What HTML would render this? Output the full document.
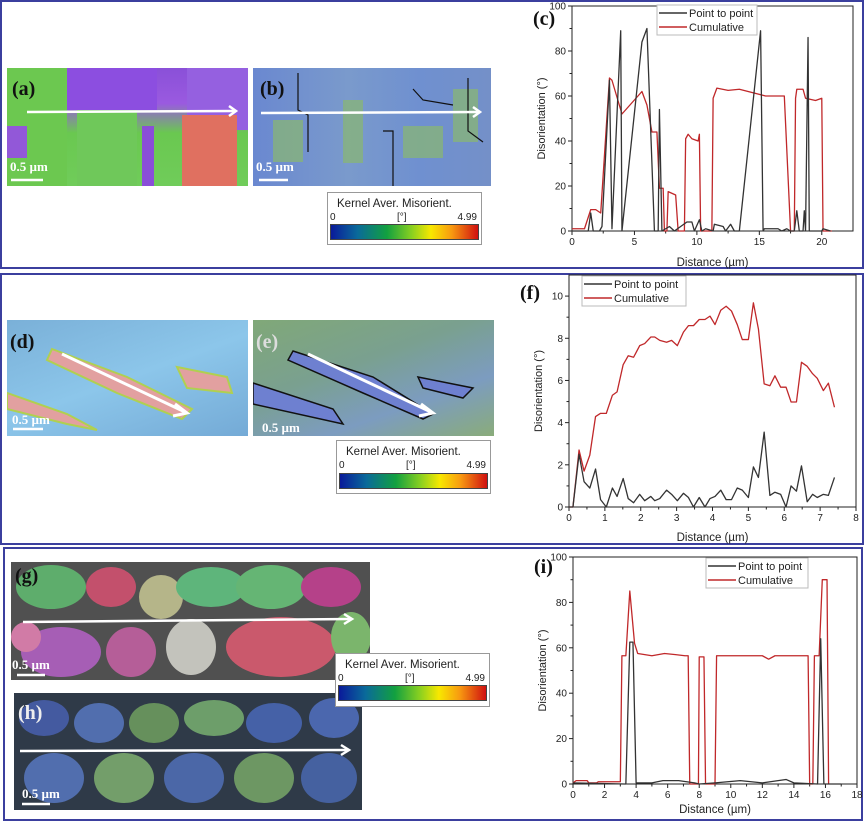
<!DOCTYPE html>
<html><head><meta charset="utf-8">
<style>
html,body{margin:0;padding:0;background:#fff;}
body{width:865px;height:822px;position:relative;overflow:hidden;font-family:"Liberation Sans",sans-serif;}
.panel{position:absolute;border:2px solid #3b3f9e;box-sizing:border-box;}
.img{position:absolute;overflow:hidden;}
.lbl{position:absolute;font-family:"Liberation Serif",serif;font-weight:bold;font-size:20px;color:#111;}
.scale{position:absolute;font-family:"Liberation Serif",serif;font-weight:bold;font-size:13px;color:#fff;}
.cbox{position:absolute;border:1px solid #999;background:#fff;font-size:11px;color:#222;}
.cgrad{position:absolute;left:2px;right:2px;height:14px;background:linear-gradient(90deg,#0a1a9a 0%,#0a6a9a 18%,#12a040 38%,#8ad020 55%,#f8e800 68%,#f89a10 82%,#d01010 100%);border:1px solid #444;}
</style></head>
<body>
<div class="panel" style="left:0;top:0;width:864px;height:269px;"></div>
<div class="panel" style="left:0;top:273px;width:864px;height:272px;"></div>
<div class="panel" style="left:3px;top:547px;width:860px;height:274px;"></div>

<!-- (a) -->
<div class="img" style="left:7px;top:68px;width:241px;height:118px;background:linear-gradient(180deg,#8a50d8 0%,#9a5ae0 30%,#6ac850 55%,#70cc5a 100%);">
<svg width="241" height="118"><rect x="0" y="0" width="60" height="118" fill="#6cc850"/><rect x="60" y="0" width="90" height="42" fill="#8c4ee0"/><rect x="180" y="0" width="61" height="62" fill="#9560e0"/><rect x="175" y="47" width="55" height="71" fill="#e07060"/><rect x="70" y="42" width="60" height="76" fill="#6fc85a"/><rect x="0" y="58" width="20" height="32" fill="#9258d8"/><rect x="135" y="58" width="12" height="60" fill="#8a4ed8"/><path d="M20 44 L228 43" stroke="#fff" stroke-width="2.5"/><path d="M222 38 L229 43 L222 48" stroke="#fff" stroke-width="2.5" fill="none"/><line x1="4" y1="112" x2="36" y2="112" stroke="#fff" stroke-width="2.5"/></svg>
</div>
<div class="lbl" style="left:12px;top:78px;">(a)</div>
<div class="scale" style="left:10px;top:159px;">0.5 µm</div>
<!-- (b) -->
<div class="img" style="left:253px;top:68px;width:238px;height:118px;background:linear-gradient(90deg,#6a88d0,#7a9acc 40%,#6f90d0 70%,#7490c8);">
<svg width="238" height="118"><g fill="#8ab870" opacity="0.7"><rect x="20" y="52" width="30" height="42"/><rect x="90" y="32" width="20" height="63"/><rect x="150" y="58" width="40" height="32"/><rect x="200" y="21" width="25" height="53"/></g><g stroke="#111" fill="none" stroke-width="1.2"><path d="M45 5 L45 42 L55 47 L55 84"/><path d="M130 63 L140 63 L140 118"/><path d="M160 21 L170 32 L200 37"/><path d="M215 10 L215 63 L230 74"/></g><path d="M8 45 L226 44" stroke="#fff" stroke-width="2.5"/><path d="M220 39 L227 44 L220 49" stroke="#fff" stroke-width="2.5" fill="none"/><line x1="6" y1="112" x2="35" y2="112" stroke="#fff" stroke-width="2.5"/></svg>
</div>
<div class="lbl" style="left:260px;top:78px;">(b)</div>
<div class="scale" style="left:256px;top:159px;">0.5 µm</div>
<div class="cbox" style="left:327px;top:192px;width:153px;height:51px;">
<div style="position:absolute;left:9px;top:5px;font-size:11.5px;">Kernel Aver. Misorient.</div>
<div style="position:absolute;left:2px;top:19px;font-size:10px;">0</div><div style="position:absolute;left:69px;top:19px;font-size:10px;">[°]</div><div style="position:absolute;right:4px;top:19px;font-size:10px;">4.99</div>
<div class="cgrad" style="top:31px;"></div></div>

<!-- (d) -->
<div class="img" style="left:7px;top:320px;width:241px;height:116px;background:linear-gradient(160deg,#7ab0d8,#8cc6ea 50%,#74aad6);">
<svg width="241" height="116"><g fill="#e2a0a0" stroke="#b0d050" stroke-width="2"><path d="M45 29 L120 57 L185 89 L175 99 L110 73 L40 40 Z"/><path d="M170 47 L220 57 L225 73 L180 68 Z"/><path d="M0 73 L60 94 L90 110 L60 104 L0 89 Z"/></g><path d="M55 34 L178 92" stroke="#fff" stroke-width="3"/><path d="M168 84 L180 93 L166 96" stroke="#fff" stroke-width="3" fill="none"/><line x1="6" y1="109" x2="36" y2="109" stroke="#fff" stroke-width="2.5"/></svg>
</div>
<div class="lbl" style="left:10px;top:331px;">(d)</div>
<div class="scale" style="left:12px;top:412px;">0.5 µm</div>
<!-- (e) -->
<div class="img" style="left:253px;top:320px;width:241px;height:116px;background:linear-gradient(160deg,#80a878,#7aa090 40%,#7c9cc0 70%,#8aac7a);">
<svg width="241" height="116"><g fill="#6e80d0" stroke="#111" stroke-width="1.5"><path d="M40 31 L120 57 L180 94 L170 99 L110 73 L35 40 Z"/><path d="M0 63 L80 89 L90 104 L0 84 Z"/><path d="M165 57 L220 68 L210 78 L170 68 Z"/></g><path d="M55 34 L178 92" stroke="#fff" stroke-width="3"/><path d="M168 84 L180 93 L166 96" stroke="#fff" stroke-width="3" fill="none"/></svg>
</div>
<div class="lbl" style="left:256px;top:331px;color:#ddd;">(e)</div>
<div class="scale" style="left:262px;top:420px;">0.5 µm</div>
<div class="cbox" style="left:336px;top:440px;width:153px;height:52px;">
<div style="position:absolute;left:9px;top:5px;font-size:11.5px;">Kernel Aver. Misorient.</div>
<div style="position:absolute;left:2px;top:19px;font-size:10px;">0</div><div style="position:absolute;left:69px;top:19px;font-size:10px;">[°]</div><div style="position:absolute;right:4px;top:19px;font-size:10px;">4.99</div>
<div class="cgrad" style="top:32px;"></div></div>

<!-- (g) -->
<div class="img" style="left:11px;top:562px;width:359px;height:118px;background:#505050;">
<svg width="359" height="118"><g opacity="0.9"><ellipse cx="40" cy="25" rx="35" ry="22" fill="#60b870"/><ellipse cx="100" cy="25" rx="25" ry="20" fill="#d05070"/><ellipse cx="150" cy="35" rx="22" ry="22" fill="#c0c090"/><ellipse cx="200" cy="25" rx="35" ry="20" fill="#60c080"/><ellipse cx="260" cy="25" rx="35" ry="22" fill="#68c078"/><ellipse cx="320" cy="25" rx="30" ry="20" fill="#c04090"/><ellipse cx="50" cy="90" rx="40" ry="25" fill="#b060c0"/><ellipse cx="120" cy="90" rx="25" ry="25" fill="#c060a0"/><ellipse cx="180" cy="85" rx="25" ry="28" fill="#d0d0c8"/><ellipse cx="270" cy="85" rx="55" ry="30" fill="#d85a70"/><ellipse cx="340" cy="75" rx="20" ry="25" fill="#80c070"/><ellipse cx="15" cy="75" rx="15" ry="15" fill="#e080b0"/></g><path d="M12 60 L340 57" stroke="#fff" stroke-width="2.5"/><path d="M333 52 L341 57 L333 62" stroke="#fff" stroke-width="2.5" fill="none"/><line x1="6" y1="113" x2="34" y2="113" stroke="#fff" stroke-width="2.5"/></svg>
</div>
<div class="lbl" style="left:15px;top:565px;">(g)</div>
<div class="scale" style="left:12px;top:657px;">0.5 µm</div>
<!-- (h) -->
<div class="img" style="left:14px;top:693px;width:348px;height:117px;background:#2f3a48;">
<svg width="348" height="117"><g opacity="0.85"><ellipse cx="30" cy="25" rx="25" ry="18" fill="#4860b0"/><ellipse cx="85" cy="30" rx="25" ry="20" fill="#5878c0"/><ellipse cx="140" cy="30" rx="25" ry="20" fill="#70a060"/><ellipse cx="200" cy="25" rx="30" ry="18" fill="#78b070"/><ellipse cx="260" cy="30" rx="28" ry="20" fill="#4a68b8"/><ellipse cx="320" cy="25" rx="25" ry="20" fill="#5070c0"/><ellipse cx="40" cy="85" rx="30" ry="25" fill="#5878c0"/><ellipse cx="110" cy="85" rx="30" ry="25" fill="#80b070"/><ellipse cx="180" cy="85" rx="30" ry="25" fill="#5070b8"/><ellipse cx="250" cy="85" rx="30" ry="25" fill="#78a868"/><ellipse cx="315" cy="85" rx="28" ry="25" fill="#4a68b0"/></g><path d="M6 58 L334 57" stroke="#fff" stroke-width="2.5"/><path d="M327 52 L335 57 L327 62" stroke="#fff" stroke-width="2.5" fill="none"/><line x1="8" y1="111" x2="36" y2="111" stroke="#fff" stroke-width="2.5"/></svg>
</div>
<div class="lbl" style="left:18px;top:702px;color:#eee;">(h)</div>
<div class="scale" style="left:22px;top:786px;">0.5 µm</div>
<div class="cbox" style="left:335px;top:653px;width:153px;height:52px;">
<div style="position:absolute;left:9px;top:5px;font-size:11.5px;">Kernel Aver. Misorient.</div>
<div style="position:absolute;left:2px;top:19px;font-size:10px;">0</div><div style="position:absolute;left:69px;top:19px;font-size:10px;">[°]</div><div style="position:absolute;right:4px;top:19px;font-size:10px;">4.99</div>
<div class="cgrad" style="top:31px;"></div></div>

<div class="lbl" style="left:533px;top:8px;">(c)</div>
<div class="lbl" style="left:520px;top:282px;">(f)</div>
<div class="lbl" style="left:534px;top:556px;">(i)</div>

<svg id="charts" width="865" height="822" style="position:absolute;left:0;top:0;"></svg>

<script>
// Chart (c)
const cP2PX=[0,1.3,1.5,1.7,2.2,2.4,3.0,3.2,3.9,4.0,5.6,6.0,6.6,6.9,7.0,7.2,7.8,8.2,9.2,9.6,9.8,10.2,10.4,10.7,11.3,11.4,12.1,12.3,12.7,13.0,13.4,15.1,15.3,15.4,16.5,16.8,17.2,17.5,17.8,18.0,18.2,18.5,18.6,18.7,18.9,19.0,20.0,20.1,20.7];
const cP2PY=[0,0,8,0,0,2,67,1,89,0,84,90,0,0,54,0,2,0,4,4,0,5,0,1,0,3,2,0,3,0,0,89,0,1,1,0,1,0,0,9,0,0,9,0,86,0,0,1,0];
const cCumX=[0,1.0,1.5,1.9,2.3,3.0,3.2,4.0,5.6,6.0,6.4,6.8,7.0,7.3,7.4,7.6,7.7,7.9,8.3,8.5,9.0,9.1,9.3,9.6,10.1,10.2,10.3,11.2,11.3,11.6,12.5,13.4,15.5,17.0,17.5,17.8,17.9,18.0,18.5,18.7,19.5,20.0,20.1,20.8];
const cCumY=[1,1,9.5,9.5,8,68,67,52,62,56,44,44,19,19,0,0,17.5,17,16,0,0,41,43,41,40,43,0,0,59,63.5,62.5,63,60,60,0,0,59,63,63,59,58,59,0,0];
const cXTicks=[0,5,10,15,20];
const cYTicks=[0,20,40,60,80,100];
// Chart (f)
const fX=[0,0.11,0.28,0.42,0.58,0.74,0.88,1.04,1.21,1.34,1.51,1.65,1.80,1.97,2.11,2.28,2.39,2.53,2.72,2.86,3.02,3.19,3.33,3.47,3.63,3.79,3.93,4.07,4.23,4.38,4.53,4.69,4.83,5.0,5.14,5.28,5.44,5.6,5.74,5.9,6.05,6.19,6.34,6.48,6.64,6.79,6.92,7.09,7.23,7.4];
const fCumY=[0,0,2.7,1.7,2.46,4.29,4.44,4.44,5.3,5.46,6.75,7.17,7.1,7.65,7.75,8.06,8.06,7.9,7.81,7.9,7.65,8.29,8.6,8.6,8.89,8.89,9.05,8.65,9.33,9.52,9.29,8.65,7.94,7.94,9.68,8.44,5.84,5.75,6.22,5.68,5.68,4.98,4.98,6.86,6.67,6.32,6.10,5.52,5.87,4.73];
const fP2PY=[0,0,2.5,1.2,0.9,1.8,0.35,0,0.9,0.5,1.35,0.4,0.2,0.6,0.3,0.5,0.3,0.4,0.8,0.6,0.3,0.65,0.45,0,0.45,0,0.4,0.5,0.8,0.35,0.35,0.9,0.8,0.45,1.9,1.4,3.55,0.55,0.7,0.6,0,1.0,0.75,1.95,0.25,0.6,0.45,0.6,0.55,1.4];
const fXTicks=[0,1,2,3,4,5,6,7,8];
const fYTicks=[0,2,4,6,8,10];
// Chart (i)
const iCumX=[0,0.2,0.9,1.0,1.5,1.6,3.0,3.1,3.35,3.6,3.9,4.1,5,5.8,6.5,7.1,7.3,7.4,7.95,8.0,8.3,8.4,9.0,9.1,10,11,12,12.4,12.8,13.5,14.9,15.0,15.2,15.3,15.6,15.8,16.1,16.2];
const iCumY=[0.5,1.5,1.5,0.5,0.5,1,1,56.5,56.5,85,62,57.5,56.5,57.5,57,56.5,56.5,0,0,56,56,0,0,56.5,56.5,56.5,56.5,55,56.5,56.5,56.5,0,0,56.5,56.5,90,90,0];
const iP2PX=[0,3.25,3.35,3.6,3.8,4.0,5,5.7,6.7,7.7,8,9,10.6,12,13.5,14,15.5,15.7,15.9,17];
const iP2PY=[0.5,0,0,62.5,62.5,0.5,0.5,1.5,1.5,0.5,0,0.5,1.5,0.5,2,0.5,0,64,0,0];
const iXTicks=[0,2,4,6,8,10,12,14,16,18];
const iYTicks=[0,20,40,60,80,100];

const svg=document.getElementById('charts');
const NS='http://www.w3.org/2000/svg';
function mk(tag,attrs,parent){const e=document.createElementNS(NS,tag);for(const k in attrs)e.setAttribute(k,attrs[k]);(parent||svg).appendChild(e);return e;}

function chart(id,box,xmax,ymax,xTicks,yTicks,xMinor,yMinor,series,legend,xTitle,xTitleOff){
  const g=mk('g',{});
  
  
  const sx=v=>box.l+(v/xmax)*(box.r-box.l);
  const sy=v=>box.b-(v/ymax)*(box.b-box.t);
  const fr=mk('rect',{x:box.l,y:box.t,width:box.r-box.l,height:box.b-box.t,fill:'none',stroke:'#222','stroke-width':1},g);
  
  
  xTicks.forEach(t=>{
    mk('line',{x1:sx(t),x2:sx(t),y1:box.b,y2:box.b+4,stroke:'#222'},g);
    const tx=mk('text',{x:sx(t),y:box.b+14,'font-size':10,'text-anchor':'middle',fill:'#222','font-family':'Liberation Sans'},g);
    tx.textContent=t;
    
    
  });
  for(let t=xMinor;t<xmax;t+=xMinor*2){mk('line',{x1:sx(t),x2:sx(t),y1:box.b,y2:box.b+2.5,stroke:'#222'},g);}
  yTicks.forEach(t=>{
    mk('line',{x1:box.l,x2:box.l-4,y1:sy(t),y2:sy(t),stroke:'#222'},g);
    const tx=mk('text',{x:box.l-6,y:sy(t)+3.5,'font-size':10,'text-anchor':'end',fill:'#222','font-family':'Liberation Sans'},g);
    tx.textContent=t;
    
    
  });
  for(let t=yMinor;t<ymax;t+=yMinor*2){mk('line',{x1:box.l,x2:box.l-2.5,y1:sy(t),y2:sy(t),stroke:'#222'},g);}
  series.forEach(s=>{
    const p=mk('polyline',{points:s.x.map((v,i)=>sx(v)+','+sy(s.y[i])).join(' '),fill:'none',stroke:s.c,'stroke-width':1.3,'stroke-linejoin':'round'},g);
    
    
  });
  const lg=mk('g',{},g);
  
  
  mk('rect',{x:legend.x,y:legend.y,width:legend.w,height:30,fill:'#fff',stroke:'#bbb'},lg);
  [['Point to point','#333'],['Cumulative','#c0282a']].forEach((e,i)=>{
    const yy=legend.y+8+i*14;
    mk('line',{x1:legend.x+2,x2:legend.x+30,y1:yy,y2:yy,stroke:e[1],'stroke-width':1.5},lg);
    const t=mk('text',{x:legend.x+32,y:yy+4,'font-size':11,fill:'#222','font-family':'Liberation Sans'},lg);
    t.textContent=e[0];
    
    
  });
  const yt=mk('text',{x:0,y:0,'font-size':11,'text-anchor':'middle',fill:'#222','font-family':'Liberation Sans',transform:'translate('+(box.l-27)+','+((box.t+box.b)/2)+') rotate(-90)'},g);
  yt.textContent='Disorientation (°)';
  
  
  const xt=mk('text',{x:(box.l+box.r)/2,y:box.b+xTitleOff,'font-size':11.5,'text-anchor':'middle',fill:'#222','font-family':'Liberation Sans'},g);
  xt.textContent=xTitle;
  
  
}
chart('chart-c',{l:572,r:853,t:6,b:231},22.5,100,cXTicks,cYTicks,2.5,10,
  [{x:cCumX,y:cCumY,c:'#c0282a',name:'cumulative-line-c'},{x:cP2PX,y:cP2PY,c:'#333',name:'point-to-point-line-c'}],
  {x:657,y:5,w:100},'Distance (µm)',35);
chart('chart-f',{l:569,r:856,t:275,b:507},8,11,fXTicks,fYTicks,0.5,1,
  [{x:fX,y:fCumY,c:'#c0282a',name:'cumulative-line-f'},{x:fX,y:fP2PY,c:'#333',name:'point-to-point-line-f'}],
  {x:582,y:276,w:104},'Distance (µm)',34);
chart('chart-i',{l:573,r:857,t:557,b:784},18,100,iXTicks,iYTicks,1,10,
  [{x:iCumX,y:iCumY,c:'#c0282a',name:'cumulative-line-i'},{x:iP2PX,y:iP2PY,c:'#333',name:'point-to-point-line-i'}],
  {x:706,y:558,w:102},'Distance (µm)',29);
</script>
</body></html>
